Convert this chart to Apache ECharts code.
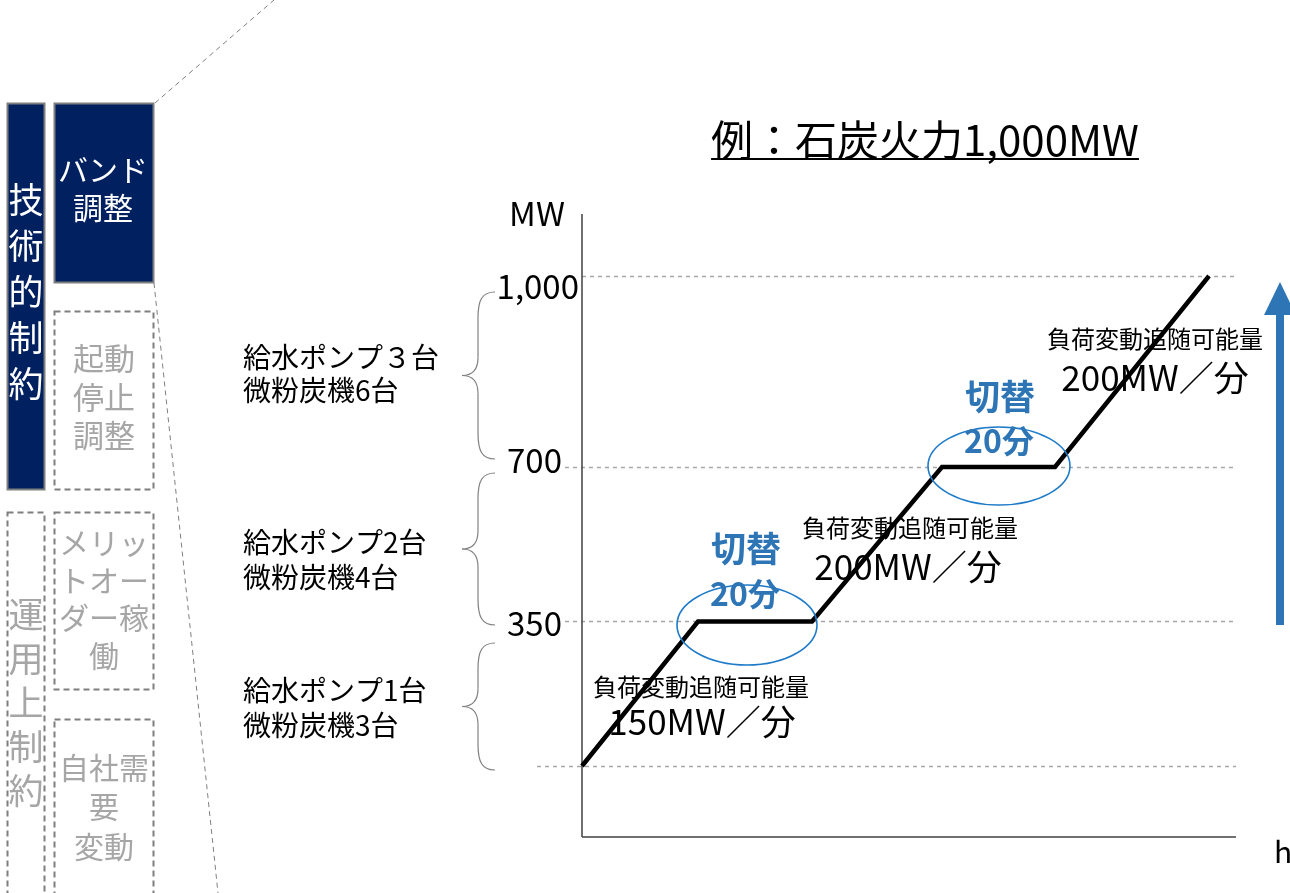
<!DOCTYPE html>
<html><head><meta charset="utf-8">
<script src="https://cdn.jsdelivr.net/npm/echarts@6/dist/echarts.min.js"></script>
<style>html,body{margin:0;padding:0;background:#fff}#c{width:1290px;height:893px}</style>
</head><body><div id="c"></div>
<script>
// ---- data ----
const titleText = '例：石炭火力1,000MW';
const levelLabels = ['', '350', '700', '1,000'];       // output levels (MW)
const levelHeights = [71, 215.5, 370, 561];            // schematic height of each level in the diagram
const pathTimes = [0, 116, 230, 360, 473, 627];        // schematic time (h axis)
const pathLevels = [0, 1, 1, 2, 2, 3];                 // level index reached at each time
const stageLabels = [
  ['給水ポンプ３台', '微粉炭機6台'],
  ['給水ポンプ2台', '微粉炭機4台'],
  ['給水ポンプ1台', '微粉炭機3台']
];
const rateTitle = '負荷変動追随可能量';
const rateValues = ['150MW／分', '200MW／分', '200MW／分'];
const switchLabels = ['切替', '20分'];
const sideMain = ['技術的制約', '運用上制約'];
const sideSub = [['バンド', '調整'], ['起動', '停止', '調整'], ['メリッ', 'トオー', 'ダー稼', '働'], ['自社需', '要', '変動']];

const FONT = "'Noto Sans CJK JP', 'Noto Sans', sans-serif";
const BLUE = '#2E75B6';
const NAVY = '#002060';
const GREY_TXT = '#A6A6A6';
const BOX_BORDER = '#7F7F7F';

const chart = echarts.init(document.getElementById('c'), null, {renderer: 'canvas'});

const lineData = pathTimes.map((t, i) => [t, levelHeights[pathLevels[i]]]);
const xMax = 654;
const levelStart = [-45, -17, -17, 0];
const labelShift = [0, 1.5, -7, 10];

const levelMarks = levelHeights.map((h, i) => [
  {coord: [levelStart[i], h]},
  {coord: [xMax, h]}
]);

function txt(text, x, y, size, color, opts) {
  return {type: 'text', silent: true, z: 100, style: Object.assign({
    text, x, y, fill: color || '#000', fontSize: size, fontFamily: FONT,
    align: 'center', verticalAlign: 'middle'}, (opts || {}))};
}
const braceStyle = {fill: 'none', stroke: '#808080', lineWidth: 1.2};
function bez(x1, y1, cpx1, cpy1, cpx2, cpy2, x2, y2, style) {
  return {type: 'bezierCurve', silent: true, z: 50,
    shape: {x1, y1, cpx1, cpy1, cpx2, cpy2, x2, y2}, style};
}
function brace(t, b) {
  const m = (t + b) / 2;
  return [
    bez(495, t, 482, t, 478, t + 8, 478, t + 26, braceStyle),
    {type: 'line', silent: true, z: 50, shape: {x1: 478, y1: t + 26, x2: 478, y2: m - 18}, style: braceStyle},
    bez(478, m - 18, 478, m - 6, 473, m, 462, m, braceStyle),
    bez(462, m, 473, m, 478, m + 6, 478, m + 18, braceStyle),
    {type: 'line', silent: true, z: 50, shape: {x1: 478, y1: m + 18, x2: 478, y2: b - 26}, style: braceStyle},
    bez(478, b - 26, 478, b - 8, 482, b, 495, b, braceStyle)
  ];
}
function ellipse(cx, cy, rx, ry) {
  const k = 0.5523;
  const st = {fill: 'none', stroke: '#1F7BC8', lineWidth: 1.6};
  return [
    bez(cx + rx, cy, cx + rx, cy + k * ry, cx + k * rx, cy + ry, cx, cy + ry, st),
    bez(cx, cy + ry, cx - k * rx, cy + ry, cx - rx, cy + k * ry, cx - rx, cy, st),
    bez(cx - rx, cy, cx - rx, cy - k * ry, cx - k * rx, cy - ry, cx, cy - ry, st),
    bez(cx, cy - ry, cx + k * rx, cy - ry, cx + rx, cy - k * ry, cx + rx, cy, st)
  ];
}
function box(x, y, w, h, solid) {
  return {type: 'rect', silent: true, z: 10, shape: {x, y, width: w, height: h},
    style: solid ? {fill: NAVY, stroke: BOX_BORDER, lineWidth: 2}
                 : {fill: 'none', stroke: BOX_BORDER, lineWidth: 2, lineDash: [6, 4]}};
}

// measure title width for underline
const TITLE_SIZE = 42;
const ctx = document.createElement('canvas').getContext('2d');
ctx.font = TITLE_SIZE + 'px ' + FONT;
const titleW = ctx.measureText(titleText).width;
const titleCx = 925;

const graphics = [
  // title
  txt(titleText, titleCx, 140, TITLE_SIZE, '#000'),
  {type: 'line', silent: true, shape: {x1: titleCx - titleW/2, y1: 159, x2: titleCx + titleW/2, y2: 159},
   style: {stroke: '#000', lineWidth: 2}},
  // left boxes
  box(7.5, 103.5, 37, 386, true),
  box(54.5, 103.5, 99, 179, true),
  box(54.5, 311.5, 99, 178, false),
  box(7.5, 512.5, 37, 400, false),
  box(54.5, 512.5, 99, 177, false),
  box(54.5, 719.5, 99, 200, false),
  txt(sideMain[0].split('').join('\n'), 26, 292, 35, '#fff', {lineHeight: 46}),
  txt(sideMain[1].split('').join('\n'), 26, 703, 35, GREY_TXT, {lineHeight: 44}),
  txt(sideSub[0].join('\n'), 103, 189, 30, '#fff', {lineHeight: 38}),
  txt(sideSub[1].join('\n'), 104, 397, 31, GREY_TXT, {lineHeight: 38.5}),
  txt(sideSub[2].join('\n'), 104, 599, 30, GREY_TXT, {lineHeight: 37.5}),
  txt(sideSub[3].join('\n'), 104, 807, 30, GREY_TXT, {lineHeight: 39.5}),
  // zoom connector lines
  {type: 'line', silent: true, shape: {x1: 155, y1: 103, x2: 274, y2: 0},
   style: {stroke: '#808080', lineWidth: 1, lineDash: [5, 4]}},
  {type: 'line', silent: true, shape: {x1: 154, y1: 283, x2: 218, y2: 893},
   style: {stroke: '#808080', lineWidth: 1, lineDash: [5, 4]}},
  // braces
  ...brace(292, 459), ...brace(473, 625), ...brace(643, 770),
  txt(stageLabels[0].join('\n'), 243, 374, 28, '#000', {align: 'left', lineHeight: 33}),
  txt(stageLabels[1].join('\n'), 243, 560, 28, '#000', {align: 'left', lineHeight: 35}),
  txt(stageLabels[2].join('\n'), 243, 708, 28, '#000', {align: 'left', lineHeight: 35}),
  // ramp-rate annotations
  txt(rateTitle, 701, 687, 24), txt(rateValues[0], 702, 722, 35),
  txt(rateTitle, 910, 528, 24), txt(rateValues[1], 908, 567, 35),
  txt(rateTitle, 1155, 339, 24), txt(rateValues[2], 1155, 378, 35),
  // switching ellipses
  ...ellipse(747, 625, 70, 40),
  ...ellipse(999, 466, 71, 39),
  txt(switchLabels[0], 746, 549, 35, BLUE, {fontWeight: 'bold'}),
  txt(switchLabels[1], 745, 594, 32, BLUE, {fontWeight: 'bold'}),
  txt(switchLabels[0], 1000, 397, 35, BLUE, {fontWeight: 'bold'}),
  txt(switchLabels[1], 999, 441, 32, BLUE, {fontWeight: 'bold'}),
  // big upward arrow
  {type: 'rect', silent: true, shape: {x: 1276, y: 312, width: 8, height: 313}, style: {fill: BLUE}},
  {type: 'polygon', silent: true, shape: {points: [[1264, 315], [1280, 282], [1296, 315]]}, style: {fill: BLUE}}
];

chart.setOption({
  animation: false,
  backgroundColor: '#fff',
  grid: {left: 537, right: 54, top: 214, bottom: 56, containLabel: false, outerBoundsMode: 'none'},
  xAxis: {type: 'value', min: -45, max: xMax, axisLine: {show: false, onZero: false}, axisTick: {show: false},
          axisLabel: {show: false}, splitLine: {show: false},
          name: 'h', nameLocation: 'end', nameGap: 38,
          nameTextStyle: {fontSize: 30, fontFamily: FONT, color: '#000', verticalAlign: 'top', align: 'left'}},
  yAxis: {type: 'value', min: 0, max: 623, axisLine: {show: false, onZero: false}, axisTick: {show: false},
          axisLabel: {show: false}, splitLine: {show: false},
          name: 'MW', nameLocation: 'end', nameGap: -16,
          nameTextStyle: {fontSize: 33, fontFamily: FONT, color: '#000', align: 'center'}},
  graphic: graphics,
  series: [
    {type: 'line', data: [], silent: true, z: 1,
     markLine: {silent: true, symbol: ['none', 'none'], animation: false,
       label: {show: false},
       lineStyle: {color: '#A6A6A6', type: [4, 4], width: 1.3},
       data: levelMarks}},
    {type: 'line', data: [], silent: true, z: 3,
     markLine: {silent: true, symbol: ['none', 'none'], animation: false,
       label: {show: false},
       lineStyle: {color: '#404040', type: 'solid', width: 1.5},
       data: [
         [{coord: [0, 0]}, {coord: [0, 623]}],
         [{coord: [0, 0]}, {coord: [xMax, 0]}]
       ]}},
    {type: 'line', data: lineData, symbol: 'none', silent: true, z: 5,
     lineStyle: {color: '#000', width: 4.5, join: 'miter'}}
  ]
});

// level tick labels placed at the start of each level line (through the axis scales)
const tickTexts = [];
levelHeights.forEach((h, i) => {
  if (!levelLabels[i]) return;
  const p = chart.convertToPixel({gridIndex: 0}, [levelStart[i], h]);
  tickTexts.push(txt(levelLabels[i], p[0] - 3, p[1] + labelShift[i], 33, '#000', {align: 'right'}));
});
chart.setOption({graphic: graphics.concat(tickTexts)});
</script></body></html>
